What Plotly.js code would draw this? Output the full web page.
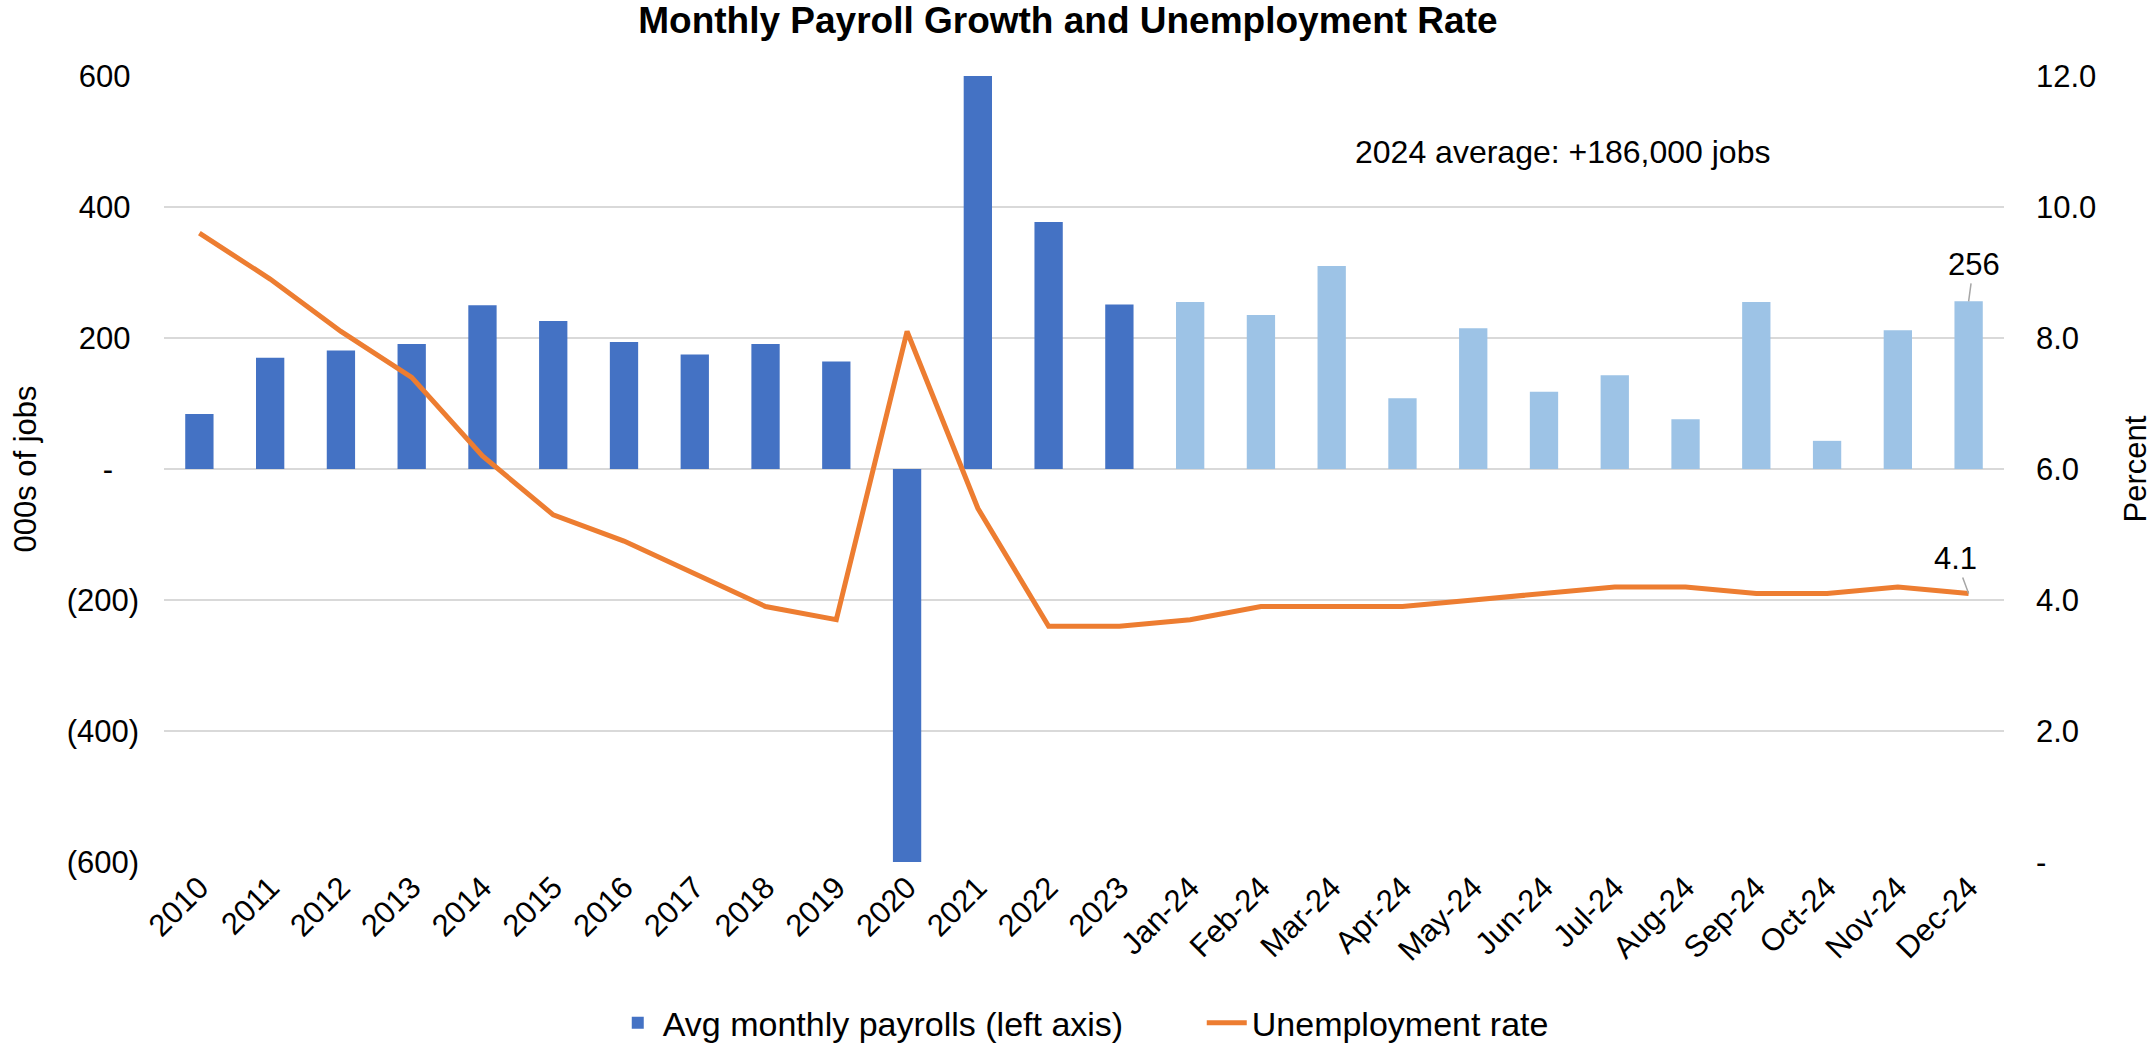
<!DOCTYPE html>
<html><head><meta charset="utf-8">
<script src="https://cdn.plot.ly/plotly-3.0.1.min.js"></script>
<style>html,body{margin:0;padding:0;background:#fff}#chart{width:2153px;height:1043px}</style>
</head><body><div id="chart"></div>
<script>
const categories = ['2010','2011','2012','2013','2014','2015','2016','2017','2018','2019','2020','2021','2022','2023',
  'Jan-24','Feb-24','Mar-24','Apr-24','May-24','Jun-24','Jul-24','Aug-24','Sep-24','Oct-24','Nov-24','Dec-24'];
const payrolls = [84, 170, 181, 191, 250, 226, 194, 175, 191, 164, -600, 600, 377, 251,
  255, 235, 310, 108, 215, 118, 143, 76, 255, 43, 212, 256];
const unemployment = [9.6, 8.9, 8.1, 7.4, 6.2, 5.3, 4.9, 4.4, 3.9, 3.7, 8.1, 5.4, 3.6, 3.6,
  3.7, 3.9, 3.9, 3.9, 4.0, 4.1, 4.2, 4.2, 4.1, 4.1, 4.2, 4.1];
const leftTickVals = [-600, -400, -200, 0, 200, 400, 600];
const leftTickText = ['(600)', '(400)', '(200)', '-\u00a0\u00a0\u00a0', '200\u00a0', '400\u00a0', '600\u00a0'];
const rightTickVals = [0, 2, 4, 6, 8, 10, 12];
const rightTickText = ['-', '2.0', '4.0', '6.0', '8.0', '10.0', '12.0'];
const seriesNames = ['Avg monthly payrolls (left axis)', 'Unemployment rate'];
const titleText = 'Monthly Payroll Growth and Unemployment Rate';
const avgNote = '2024 average: +186,000 jobs';

const DARK = '#4472C4', LIGHT = '#9DC3E6', ORANGE = '#ED7D31';
const barColors = categories.map(c => c.indexOf('-') > 0 ? LIGHT : DARK);
const FONT = 'Liberation Sans, Arial, sans-serif';
const lastIdx = categories.length - 1;

const traces = [
  {type: 'bar', x: categories, y: payrolls, name: seriesNames[0],
   marker: {color: barColors}, yaxis: 'y'},
  {type: 'scatter', mode: 'lines', x: categories, y: unemployment, name: seriesNames[1],
   line: {color: ORANGE, width: 5}, yaxis: 'y2'}
];

const layout = {
  width: 2153, height: 1043,
  paper_bgcolor: '#fff', plot_bgcolor: '#fff',
  font: {family: FONT, size: 31, color: '#000'},
  margin: {l: 164, r: 149, t: 76, b: 181, autoexpand: false},
  title: {text: '<b>' + titleText + '</b>', font: {family: FONT, size: 37, color: '#000'},
          x: 0.496, xanchor: 'center', xref: 'container', y: 0.981, yanchor: 'middle', yref: 'container'},
  bargap: 0.6,
  showlegend: true,
  legend: {orientation: 'h', x: 0.564, xanchor: 'center', y: -0.205, yanchor: 'middle',
           font: {family: FONT, size: 34, color: '#000'}, itemwidth: 40,
           entrywidth: 534, entrywidthmode: 'pixels'},
  xaxis: {type: 'category', tickangle: -45, showgrid: false, showline: false, ticks: '',
          tickfont: {family: FONT, size: 31, color: '#000'}, automargin: false},
  yaxis: {range: [-600, 600], tickvals: leftTickVals, ticktext: leftTickText,
          showgrid: true, gridcolor: '#D9D9D9', gridwidth: 2, zeroline: false, showline: false, ticks: '',
          tickfont: {family: FONT, size: 31, color: '#000'}, ticklabelstandoff: 24, automargin: false,
          title: {text: '000s of jobs', font: {family: FONT, size: 31, color: '#000'}, standoff: 20}},
  yaxis2: {range: [0, 12], overlaying: 'y', side: 'right', tickvals: rightTickVals, ticktext: rightTickText,
           showgrid: false, zeroline: false, showline: false, ticks: '',
           tickfont: {family: FONT, size: 31, color: '#000'}, ticklabelstandoff: 31, automargin: false,
           title: {text: 'Percent', font: {family: FONT, size: 31, color: '#000'}, standoff: 37}},
  annotations: [
    {text: avgNote, xref: 'paper', yref: 'paper', x: 0.760, y: 0.903, xanchor: 'center', yanchor: 'middle',
     showarrow: false, font: {family: FONT, size: 32, color: '#000'}},
    {text: String(payrolls[lastIdx]), x: categories[lastIdx], y: payrolls[lastIdx], xref: 'x', yref: 'y',
     showarrow: true, arrowhead: 0, arrowcolor: '#A6A6A6', arrowwidth: 1.5, ax: 5, ay: -37,
     font: {family: FONT, size: 31, color: '#000'}},
    {text: String(unemployment[lastIdx]), x: categories[lastIdx], y: unemployment[lastIdx], xref: 'x', yref: 'y2',
     showarrow: true, arrowhead: 0, arrowcolor: '#A6A6A6', arrowwidth: 1.5, ax: -13, ay: -35,
     font: {family: FONT, size: 31, color: '#000'}}
  ]
};

Plotly.newPlot('chart', traces, layout, {displayModeBar: false, staticPlot: true});
</script></body></html>
